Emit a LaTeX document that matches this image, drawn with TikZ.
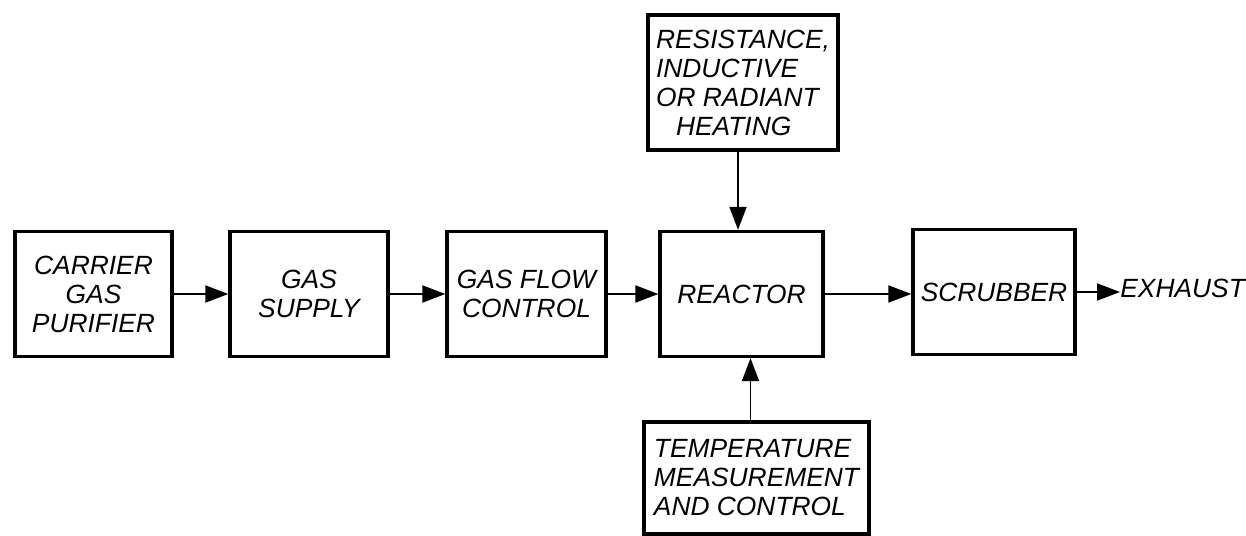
\documentclass[tikz,border=0pt]{standalone}
\usepackage{fontspec}
\setmainfont{Liberation Sans}
\usetikzlibrary{arrows.meta}
\begin{document}
\begin{tikzpicture}[
  box/.style={draw,line width=1.9pt,inner sep=0pt,minimum height=2.5cm,align=center,
    font=\itshape\fontsize{15}{16.5}\selectfont},
  flow/.style={-{Triangle[length=4.6mm,width=3.4mm]},line width=1.1pt}]
\useasboundingbox (0,0) rectangle (24.92,10.70);
\node[box,minimum width=3.14cm] (purifier) at (1.87,4.82) {CARRIER\\GAS\\PURIFIER};
\node[box,minimum width=3.16cm] (supply) at (6.18,4.82) {GAS\\SUPPLY};
\node[box,minimum width=3.18cm] (flowctl) at (10.53,4.82) {GAS FLOW\\CONTROL};
\node[box,minimum width=3.26cm] (reactor) at (14.83,4.82) {REACTOR};
\node[box,minimum width=3.24cm] (scrubber) at (19.88,4.86) {SCRUBBER};
\node[box,minimum width=3.8cm,minimum height=2.7cm,align=left] (heating) at (14.86,9.05)
  {RESISTANCE,\\INDUCTIVE\\OR RADIANT\\\hspace*{0.4cm}HEATING};
\node[box,minimum width=4.5cm,minimum height=2.24cm,align=left] (temp) at (15.13,1.14)
  {TEMPERATURE\\MEASUREMENT\\AND CONTROL};
\node[inner sep=0pt,anchor=west,font=\itshape\fontsize{15}{16.5}\selectfont] (exhaust) at (22.40,4.94) {EXHAUST};

\draw[flow] (purifier) -- (supply);
\draw[flow] (supply) -- (flowctl);
\draw[flow] (flowctl) -- (reactor);
\draw[flow] (reactor.east) -- (reactor.east -| scrubber.west);
\draw[flow] (scrubber.east) -- (scrubber.east -| exhaust.west);
\draw[flow] ([xshift=-1mm]heating.south) -- ([xshift=-1mm]heating.south |- reactor.north);
\draw[flow] ([xshift=1.8mm]reactor.south |- temp.north) -- ([xshift=1.8mm]reactor.south);
\end{tikzpicture}
\end{document}
